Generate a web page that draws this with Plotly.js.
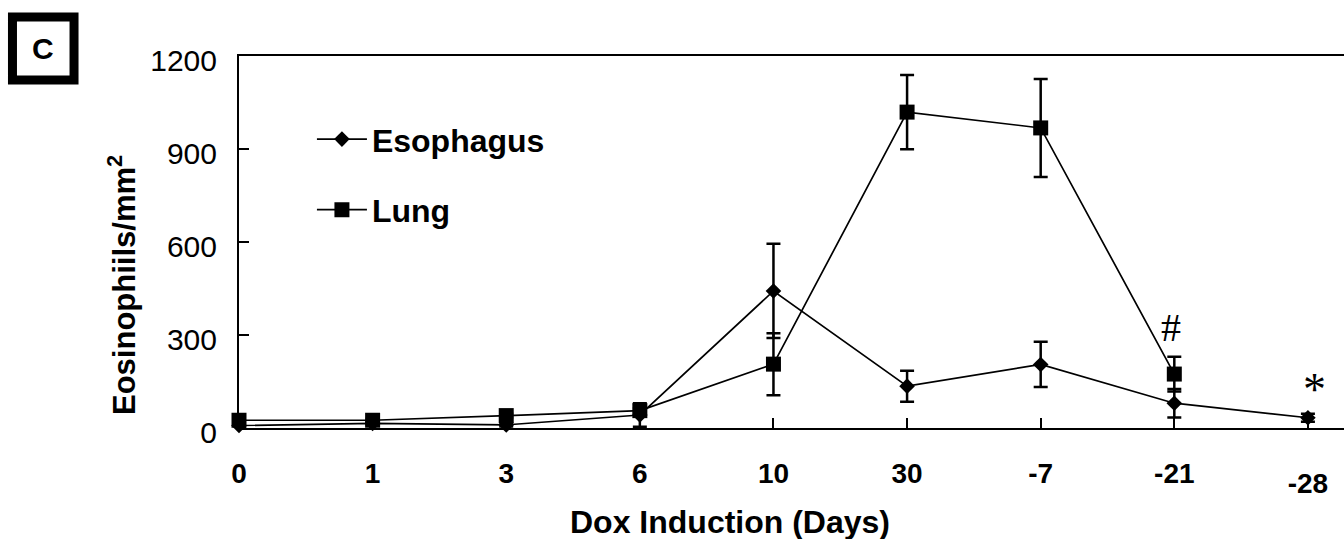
<!DOCTYPE html>
<html>
<head>
<meta charset="utf-8">
<script src="https://cdn.plot.ly/plotly-3.0.1.min.js"></script>
<style>
  html, body { margin: 0; padding: 0; background: #fff; }
  #chart { width: 1344px; height: 539px; }
</style>
</head>
<body>
<div id="chart"></div>
<script>
// Days of doxycycline induction (positive) and withdrawal (negative)
const dayLabels = ['0', '1', '3', '6', '10', '30', '-7', '-21', '-28'];

// Eosinophils per mm² (mean ± error)
const esophagus    = [8, 15, 10, 42, 442, 135, 205, 80, 33];
const esophagusErr = [4, 5, 5, 38, 152, 50, 73, 46, 13];
const lung         = [25, 25, 40, 56, 206, 1019, 968, 174, null];
const lungErr      = [5, 5, 6, 8, 100, 120, 158, 56, null];

const seriesNames = ['Esophagus', 'Lung'];
const yTicks = [0, 300, 600, 900, 1200];

const dayIndex = dayLabels.map((_, i) => i);
const lastIdx = dayLabels.length - 1;
const xRange = [0, 8.27];

const FONT = 'Liberation Sans, Arial, sans-serif';
const SERIF = 'Liberation Serif, Times New Roman, serif';

const common = {
  type: 'scatter',
  mode: 'lines+markers',
  x: dayIndex,
  cliponaxis: false,
  line: { color: '#000', width: 1.7 },
};

const traces = [
  Object.assign({}, common, {
    name: seriesNames[0],
    legendgroup: 'a',
    y: esophagus,
    marker: { symbol: 'diamond', size: 12, color: '#000' },
    error_y: { type: 'data', array: esophagusErr, visible: true, color: '#000', thickness: 2.5, width: 7 },
  }),
  Object.assign({}, common, {
    name: seriesNames[1],
    legendgroup: 'b',
    y: lung,
    connectgaps: false,
    marker: { symbol: 'square', size: 15, color: '#000' },
    error_y: { type: 'data', array: lungErr, visible: true, color: '#000', thickness: 2.5, width: 7 },
  }),
  // carrier for the secondary day axis (holds no points)
  {
    type: 'scatter', mode: 'markers', x: [], y: [],
    xaxis: 'x2', yaxis: 'y', showlegend: false, hoverinfo: 'skip',
  },
];

const xTickBase = {
  range: xRange,
  tickmode: 'array',
  ticks: 'inside',
  ticklen: 10,
  tickwidth: 2,
  tickcolor: '#000',
  showgrid: false,
  zeroline: false,
  tickfont: { family: FONT, size: 28, color: '#000', weight: 'bold' },
};

const layout = {
  width: 1344,
  height: 539,
  margin: { l: 239, r: 0, t: 56, b: 111, pad: 0 },
  paper_bgcolor: '#fff',
  plot_bgcolor: '#fff',
  font: { family: FONT, color: '#000' },
  showlegend: true,
  legend: {
    x: 0.066, xanchor: 'left',
    y: 0.85, yanchor: 'top',
    bgcolor: 'rgba(0,0,0,0)',
    borderwidth: 0,
    traceorder: 'grouped',
    tracegroupgap: 26,
    itemwidth: 50,
    font: { family: FONT, size: 32, color: '#000', weight: 'bold' },
  },
  xaxis: Object.assign({}, xTickBase, {
    tickvals: dayIndex.slice(0, lastIdx),
    ticktext: dayLabels.slice(0, lastIdx),
    showline: true,
    linecolor: '#000',
    linewidth: 2,
    mirror: true,
    ticklabelstandoff: 19,
  }),
  // the final withdrawal day label sits a little lower than the rest
  xaxis2: Object.assign({}, xTickBase, {
    overlaying: 'x',
    anchor: 'y',
    side: 'bottom',
    tickvals: [dayIndex[lastIdx]],
    ticktext: [dayLabels[lastIdx]],
    showline: false,
    ticklabelstandoff: 36,
  }),
  yaxis: {
    range: [0, 1200],
    tickmode: 'array',
    tickvals: yTicks,
    ticktext: yTicks.map(String),
    ticks: 'inside',
    ticklen: 10,
    tickwidth: 2,
    tickcolor: '#000',
    showline: true,
    linecolor: '#000',
    linewidth: 2,
    showgrid: false,
    zeroline: false,
    ticklabelstandoff: 14,
    ticklabelshift: 4,
    tickfont: { family: FONT, size: 30, color: '#000' },
  },
  shapes: [
    // panel letter frame
    { type: 'rect', xref: 'paper', yref: 'paper',
      x0: -0.205, x1: -0.1493, y0: 0.9355, y1: 1.105,
      line: { color: '#000', width: 9 }, fillcolor: 'rgba(0,0,0,0)' },
  ],
  annotations: [
    { xref: 'paper', yref: 'paper', x: -0.177, y: 1.02, text: '<b>C</b>',
      showarrow: false, xanchor: 'center', yanchor: 'middle',
      font: { family: FONT, size: 30, color: '#000' } },
    // axis titles
    { xref: 'paper', yref: 'paper', x: 0.444, y: -0.253, text: '<b>Dox Induction (Days)</b>',
      showarrow: false, xanchor: 'center', yanchor: 'middle',
      font: { family: FONT, size: 32, color: '#000' } },
    { xref: 'paper', yref: 'paper', x: -0.106, y: 0.384, text: '<b>Eosinophiils/mm<sup>2</sup></b>',
      showarrow: false, xanchor: 'center', yanchor: 'middle', textangle: -90,
      font: { family: FONT, size: 31, color: '#000' } },
    // significance marks
    { xref: 'x', yref: 'y', x: 7, y: 323, text: '#', showarrow: false,
      xanchor: 'center', yanchor: 'middle', xshift: -3,
      font: { family: SERIF, size: 40, color: '#000' } },
    { xref: 'x', yref: 'y', x: 8, y: 125, text: '*', showarrow: false,
      xanchor: 'center', yanchor: 'middle', xshift: 7,
      font: { family: SERIF, size: 46, color: '#000' } },
  ],
};

Plotly.newPlot('chart', traces, layout, { staticPlot: true, displayModeBar: false });
</script>
</body>
</html>
